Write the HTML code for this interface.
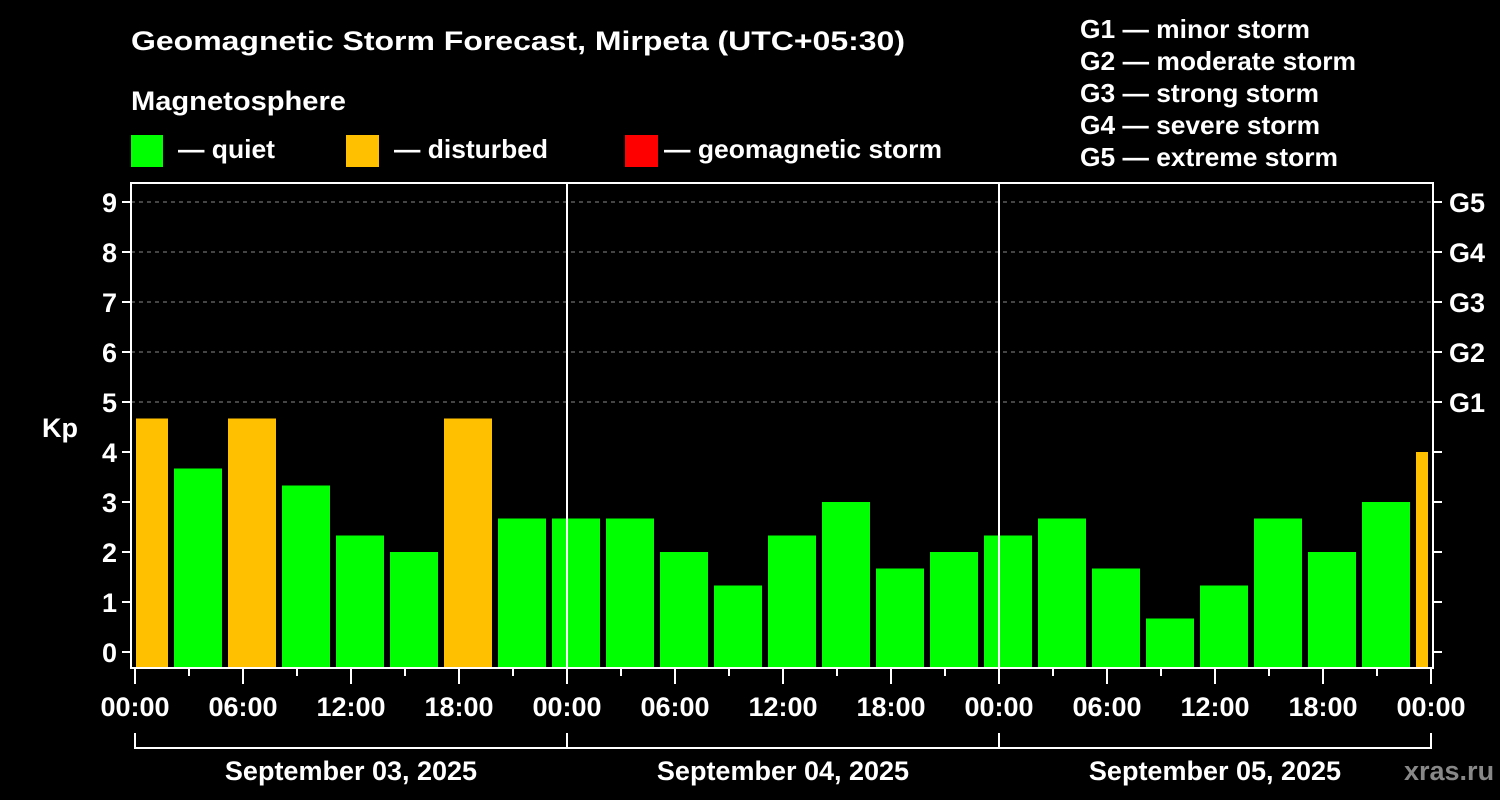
<!DOCTYPE html>
<html><head><meta charset="utf-8"><style>
html,body{margin:0;padding:0;background:#000;}
svg{display:block;font-family:"Liberation Sans",Arial,sans-serif;font-weight:bold;}
</style></head><body>
<svg id="chart" width="1500" height="800" viewBox="0 0 1500 800" xmlns="http://www.w3.org/2000/svg">
<rect width="1500" height="800" fill="#000"/>
<text x="131" y="50" fill="#fff" font-size="27" textLength="774" lengthAdjust="spacingAndGlyphs">Geomagnetic Storm Forecast, Mirpeta (UTC+05:30)</text>
<text x="131" y="110" fill="#fff" font-size="27" textLength="215" lengthAdjust="spacingAndGlyphs">Magnetosphere</text>
<g><rect x="131" y="135" width="32" height="32" fill="#00ff00"/><text x="178" y="158" fill="#fff" font-size="26" textLength="97" lengthAdjust="spacingAndGlyphs">— quiet</text></g>
<g><rect x="346" y="135" width="33" height="32" fill="#ffc000"/><text x="394" y="158" fill="#fff" font-size="26" textLength="154" lengthAdjust="spacingAndGlyphs">— disturbed</text></g>
<g><rect x="625" y="135" width="33" height="32" fill="#ff0000"/><text x="664" y="158" fill="#fff" font-size="26" textLength="278" lengthAdjust="spacingAndGlyphs">— geomagnetic storm</text></g>
<g fill="#fff" font-size="26">
<text x="1080" y="38" textLength="230" lengthAdjust="spacingAndGlyphs">G1 — minor storm</text>
<text x="1080" y="70" textLength="276" lengthAdjust="spacingAndGlyphs">G2 — moderate storm</text>
<text x="1080" y="102" textLength="239" lengthAdjust="spacingAndGlyphs">G3 — strong storm</text>
<text x="1080" y="134" textLength="240" lengthAdjust="spacingAndGlyphs">G4 — severe storm</text>
<text x="1080" y="166" textLength="258" lengthAdjust="spacingAndGlyphs">G5 — extreme storm</text>
</g>
<text x="42" y="437" fill="#fff" font-size="27">Kp</text>
<text x="1404" y="780" fill="#888" font-size="27">xras.ru</text>
<defs><clipPath id="plotclip"><rect x="136" y="183" width="1292" height="485"/></clipPath></defs>
<g id="grid"></g>
<g id="bars" clip-path="url(#plotclip)"></g>
<g id="axes"></g>
</svg>
<script>
const kpValues = [4.67,3.67,4.67,3.33,2.33,2.0,4.67,2.67,2.67,2.67,2.0,1.33,2.33,3.0,1.67,2.0,2.33,2.67,1.67,0.67,1.33,2.67,2.0,3.0,4.0];
const yTicks = [0,1,2,3,4,5,6,7,8,9];
const gLabels = ["G1","G2","G3","G4","G5"];
const timeLabels = ["00:00","06:00","12:00","18:00","00:00","06:00","12:00","18:00","00:00","06:00","12:00","18:00","00:00"];
const dateLabels = ["September 03, 2025","September 04, 2025","September 05, 2025"];

const NS="http://www.w3.org/2000/svg";
const x0=135, pxPerHour=18, plotTop=183, plotBottom=668, plotLeft=131, plotRight=1433;
const yScale = k => 652 - 50*k;
const xScale = h => x0 + h*pxPerHour;
function mk(tag, attrs, parent){const e=document.createElementNS(NS,tag);for(const k in attrs)e.setAttribute(k,attrs[k]);parent.appendChild(e);return e;}
const grid=document.getElementById('grid'), bars=document.getElementById('bars'), axes=document.getElementById('axes');

yTicks.forEach(k=>{
  const y=yScale(k);
  if(k>=5){const l=mk('line',{x1:plotLeft,x2:plotRight,y1:y,y2:y,stroke:'#888','stroke-width':1,'stroke-dasharray':'4,4'},grid);
    
    }
  mk('line',{x1:plotLeft-9,x2:plotLeft,y1:y,y2:y,stroke:'#fff','stroke-width':2},axes);
  mk('line',{x1:plotRight,x2:plotRight+9,y1:y,y2:y,stroke:'#fff','stroke-width':2},axes);
  const t=mk('text',{x:117,y:y+10,fill:'#fff','font-size':27,'text-anchor':'end'},axes);
  t.textContent=k;
  
  
});
gLabels.forEach((g,i)=>{
  const t=mk('text',{x:1449,y:yScale(5+i)+10,fill:'#fff','font-size':27},axes);
  t.textContent=g;
  
  
});

kpValues.forEach((v,i)=>{
  const c=xScale(3*i+0.5);
  const r=mk('rect',{x:c-24,y:yScale(v),width:48,height:plotBottom-yScale(v),fill:v>=5?'#ff0000':(v>=4?'#ffc000':'#00ff00')},bars);
  
  
});

// axis box
const box=mk('rect',{x:plotLeft,y:plotTop,width:plotRight-plotLeft,height:plotBottom-plotTop,fill:'none',stroke:'#fff','stroke-width':2},axes);


[1,2].forEach(d=>{const x=xScale(24*d);mk('line',{x1:x,x2:x,y1:plotTop,y2:plotBottom,stroke:'#fff','stroke-width':2},axes);});

for(let h=0;h<=72;h+=3){
  const x=xScale(h);
  mk('line',{x1:x,x2:x,y1:plotBottom,y2:plotBottom+(h%6===0?16:8),stroke:'#fff','stroke-width':2},axes);
}
timeLabels.forEach((s,i)=>{
  const t=mk('text',{x:xScale(6*i),y:716,fill:'#fff','font-size':27,'text-anchor':'middle'},axes);
  t.textContent=s;
  
  
});
mk('line',{x1:xScale(0),x2:xScale(72),y1:748,y2:748,stroke:'#fff','stroke-width':2},axes);
[0,1,2,3].forEach(d=>{const x=xScale(24*d);mk('line',{x1:x,x2:x,y1:733,y2:749,stroke:'#fff','stroke-width':2},axes);});
dateLabels.forEach((s,i)=>{
  const t=mk('text',{x:xScale(24*i+12),y:780,fill:'#fff','font-size':27,'text-anchor':'middle'},axes);
  t.textContent=s;
  
  
});
</script>
</body></html>
